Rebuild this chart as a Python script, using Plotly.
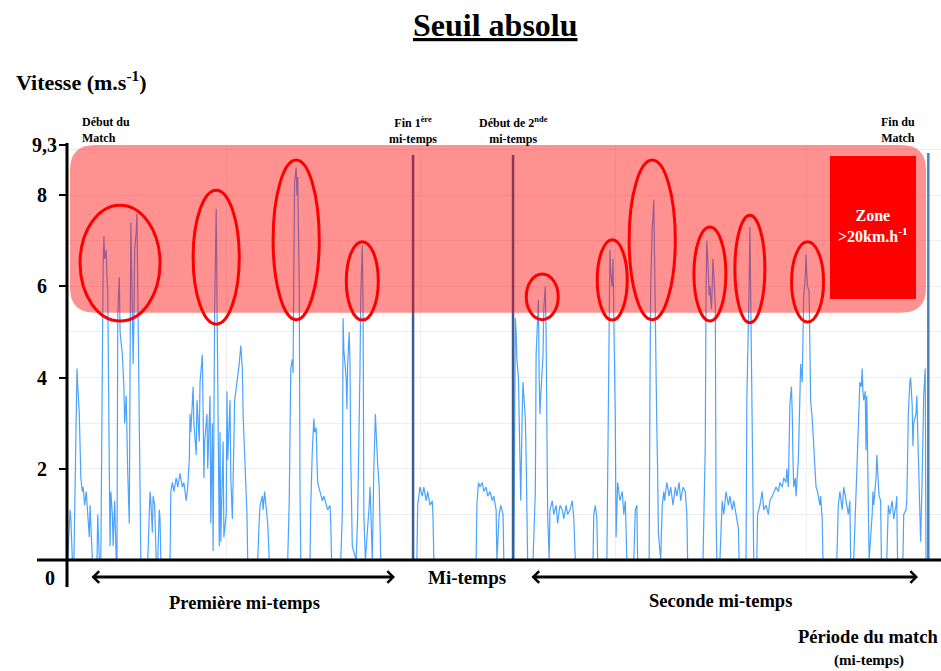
import plotly.graph_objects as go

# ---------------- data (time in minutes, speed in m/s) ----------------
T_H1 = [
    0.1, 0.3, 0.4, 0.5, 0.7, 0.9, 1.2, 1.3, 1.4, 1.6,
    1.7, 1.8, 2.0, 2.1, 2.2, 2.3, 2.5, 2.6, 2.7, 2.9,
    3.0, 3.1, 3.3, 3.9, 4.0, 4.2, 4.4, 4.7, 4.8, 4.9,
    5.1, 5.2, 5.3, 5.5, 5.6, 5.7, 5.9, 6.0, 6.2, 6.4,
    6.5, 6.6, 6.8, 6.9, 7.2, 7.4, 7.5, 7.7, 7.8, 7.9,
    8.1, 8.2, 8.3, 8.5, 8.6, 8.7, 8.8, 9.0, 9.1, 9.2,
    9.4, 9.5, 9.6, 10.5, 10.7, 10.8, 10.9, 11.1, 11.2, 11.4,
    11.6, 11.8, 12.0, 12.1, 12.2, 13.4, 13.5, 13.7, 13.9, 14.2,
    14.4, 14.7, 15.0, 15.2, 15.5, 15.7, 15.9, 16.0, 16.1, 16.4,
    16.5, 16.8, 16.9, 17.2, 17.3, 17.6, 17.7, 17.8, 17.9, 18.2,
    18.3, 18.6, 18.7, 18.9, 19.0, 19.1, 19.2, 19.4, 19.5, 19.6,
    19.8, 19.9, 20.0, 20.3, 20.4, 20.7, 20.8, 20.9, 21.2, 21.3,
    21.5, 21.7, 21.8, 22.1, 22.4, 22.6, 22.8, 22.9, 23.1, 23.4,
    23.5, 24.8, 25.0, 25.1, 25.4, 25.5, 25.7, 25.9, 26.1, 26.3,
    28.7, 28.9, 29.0, 29.1, 29.3, 29.4, 29.5, 29.6, 29.8, 29.9,
    30.0, 30.2, 30.3, 30.4, 31.6, 31.7, 31.9, 32.0, 32.1, 32.2,
    32.4, 32.5, 32.6, 32.9, 33.2, 33.4, 33.7, 33.9, 34.2, 34.3,
    34.4, 35.6, 35.8, 35.9, 36.0, 36.3, 36.4, 36.5, 36.7, 36.8,
    36.9, 37.1, 37.6, 37.8, 38.1, 38.2, 38.4, 38.5, 38.6, 38.8,
    39.3, 39.4, 39.5, 39.7, 39.9, 40.1, 40.2, 40.3, 40.4, 40.6,
    40.7, 40.8,
]
V_H1 = [
    0, 1.0, 1.1, 0.9, 0, 0, 3.5, 4.2, 3.8, 3.2,
    2.5, 1.8, 1.5, 1.6, 1.4, 1.2, 1.5, 1.3, 1.0, 0.5,
    1.2, 0.8, 0, 0, 1.0, 0, 0, 6.5, 7.1, 6.6,
    6.8, 6.2, 5.9, 2.0, 0.3, 1.5, 1.0, 0.3, 1.3, 0,
    0, 5.4, 6.2, 5.0, 4.5, 3.8, 3.0, 3.6, 2.5, 1.9,
    0.8, 6.5, 7.4, 5.5, 4.3, 5.2, 6.8, 7.2, 7.6, 6.0,
    3.0, 1.5, 0, 0, 1.2, 1.5, 1.3, 0.6, 1.4, 1.2,
    0, 0, 1.1, 0.9, 0, 0, 1.5, 1.7, 1.5, 1.8,
    1.6, 1.9, 1.6, 1.7, 1.3, 1.6, 2.2, 3.2, 2.8, 3.8,
    3.0, 2.3, 3.5, 2.6, 3.9, 4.5, 3.2, 1.8, 2.6, 3.2,
    2.0, 3.6, 0.8, 3.0, 0.2, 2.4, 5.5, 7.7, 5.8, 3.3,
    0.3, 2.8, 0.4, 2.6, 0.5, 1.0, 3.7, 2.2, 3.5, 1.8,
    0.9, 2.6, 3.5, 3.9, 4.3, 4.7, 4.2, 3.2, 2.3, 1.0,
    0, 0, 0.9, 1.2, 1.4, 1.1, 1.5, 1.2, 0.8, 0,
    0, 1.3, 3.0, 4.2, 4.4, 4.1, 6.5, 8.3, 8.6, 8.0,
    8.4, 6.0, 1.5, 0, 0, 1.2, 2.4, 2.7, 3.1, 2.8,
    2.9, 2.2, 1.7, 1.5, 1.3, 1.4, 1.2, 1.1, 1.2, 0.8,
    0, 0, 1.0, 5.3, 4.6, 4.0, 3.3, 4.3, 5.0, 4.3,
    2.2, 0.3, 0, 1.0, 4.2, 5.8, 6.9, 5.6, 1.0, 0,
    1.2, 1.6, 1.1, 0, 2.0, 3.2, 2.8, 2.4, 2.1, 1.6,
    1.0, 0,
]
T_HT = [
    45.5, 45.6, 45.9, 46.2, 46.4, 46.7, 46.9, 47.2, 47.5, 47.6,
    47.7, 53.2, 53.3, 53.5, 53.7, 54.0, 54.2, 54.5, 54.7, 55.0,
    55.3, 55.5, 55.8, 55.9, 56.2, 56.4, 56.7, 56.8,
]
V_HT = [
    0, 1.2, 1.6, 1.4, 1.6, 1.3, 1.5, 1.2, 1.3, 0.9,
    0, 0, 1.2, 1.7, 1.6, 1.7, 1.5, 1.6, 1.4, 1.5,
    1.3, 1.4, 1.1, 0, 1.0, 1.2, 1.0, 0,
]
T_H2 = [
    58.1, 58.3, 58.4, 58.5, 58.7, 58.8, 58.9, 59.0, 59.2, 59.3,
    59.4, 59.6, 59.7, 59.8, 59.9, 60.6, 60.9, 61.0, 61.2, 61.3,
    61.4, 61.5, 61.6, 61.9, 62.0, 62.2, 62.3, 62.4, 62.5, 62.7,
    62.8, 63.1, 63.3, 63.6, 63.8, 64.1, 64.4, 64.6, 64.9, 65.1,
    65.4, 65.7, 65.9, 66.1, 68.4, 68.5, 68.7, 68.9, 69.0, 70.2,
    70.5, 70.6, 70.7, 70.9, 71.0, 71.1, 71.3, 71.4, 71.5, 71.6,
    71.9, 72.2, 72.4, 72.6, 72.8, 73.7, 73.9, 74.1, 74.2, 75.7,
    75.8, 75.9, 76.1, 76.2, 76.3, 76.4, 76.6, 76.7, 76.8, 76.9,
    77.2, 77.4, 77.6, 77.7, 78.0, 78.3, 78.5, 78.8, 79.1, 79.3,
    79.6, 79.8, 80.1, 80.4, 80.6, 80.7, 82.7, 83.0, 83.1, 83.2,
    83.4, 83.5, 83.6, 83.8, 83.9, 84.0, 84.1, 84.3, 84.4, 84.5,
    84.9, 85.2, 85.4, 85.7, 86.0, 86.2, 86.5, 86.7, 87.0, 87.3,
    87.4, 88.3, 88.4, 88.5, 88.7, 88.8, 88.9, 89.0, 89.2, 89.3,
    89.7, 89.8, 90.1, 90.4, 90.6, 90.9, 91.2, 91.4, 91.7, 91.9,
    92.2, 92.5, 92.7, 93.0, 93.2, 93.5, 93.6, 93.8, 93.9, 94.0,
    94.2, 94.3, 94.4, 94.5, 94.7, 94.8, 95.1, 95.2, 95.3, 95.4,
    95.6, 95.7, 95.8, 96.0, 96.1, 96.2, 96.3, 96.5, 96.6, 96.7,
    96.9, 97.0, 97.1, 97.2, 97.4, 97.6, 97.9, 98.0, 98.2, 98.3,
    100.1, 100.3, 100.5, 100.8, 101.0, 101.3, 101.6, 101.8, 101.9, 102.3,
    102.6, 102.7, 102.9, 103.0, 103.1, 103.3, 103.4, 103.5, 103.6, 103.8,
    103.9, 104.0, 104.2, 104.3, 104.7, 104.8, 104.9, 105.2, 105.3, 105.4,
    105.6, 105.8, 105.9, 106.6, 106.8, 107.0, 107.3, 107.5, 107.8, 107.9,
    108.0, 108.7, 108.8, 109.1, 109.2, 109.3, 109.4, 109.6, 109.7, 109.9,
    110.0, 110.1, 110.4, 110.5, 110.7, 110.8, 110.9, 111.0, 111.2, 111.3,
    111.4, 111.6, 111.7,
]
V_H2 = [
    0, 5.3, 5.0, 4.4, 4.0, 3.2, 2.4, 1.3, 3.3, 3.9,
    3.6, 3.1, 2.3, 1.0, 0, 0, 1.5, 4.5, 5.5, 5.7,
    4.0, 3.2, 3.6, 4.5, 5.5, 6.0, 5.0, 2.5, 1.0, 0,
    1.1, 1.3, 1.0, 1.2, 0.8, 1.2, 1.1, 0.9, 1.2, 1.0,
    1.1, 1.3, 0.9, 0, 0, 1.0, 1.2, 0.9, 0, 0,
    5.0, 6.8, 6.3, 6.0, 6.6, 5.5, 3.0, 0.5, 1.2, 1.7,
    1.3, 1.5, 1.0, 1.3, 0, 0, 1.1, 1.2, 0, 0,
    3.5, 6.0, 7.3, 7.5, 7.9, 6.4, 4.0, 2.9, 2.0, 0.6,
    0, 1.2, 1.5, 1.3, 1.7, 1.4, 1.6, 1.2, 1.6, 1.4,
    1.7, 1.3, 1.6, 1.5, 1.0, 0, 0, 2.5, 6.0, 7.0,
    6.3, 5.8, 6.0, 5.5, 6.0, 6.6, 6.3, 5.6, 1.0, 0,
    0, 1.3, 1.0, 1.5, 1.2, 1.4, 1.1, 1.3, 1.0, 0.7,
    0, 0, 3.5, 4.2, 6.0, 7.3, 6.0, 4.5, 1.0, 0,
    0, 1.0, 1.2, 1.5, 1.1, 1.2, 1.0, 1.3, 1.4, 1.5,
    1.6, 1.5, 1.7, 1.6, 1.8, 1.7, 2.0, 1.6, 2.5, 3.4,
    3.8, 3.3, 2.2, 1.6, 1.8, 1.4, 2.2, 3.0, 3.8, 4.3,
    3.9, 5.0, 5.8, 6.2, 6.7, 6.3, 6.0, 5.9, 4.6, 3.5,
    3.1, 2.8, 2.4, 2.0, 1.6, 1.5, 1.2, 1.4, 0.9, 0,
    0, 1.2, 1.5, 1.1, 1.6, 1.3, 1.0, 1.3, 0, 0,
    1.4, 1.7, 2.6, 3.4, 3.9, 3.8, 4.2, 3.7, 3.5, 3.7,
    2.4, 3.6, 1.2, 0, 1.0, 1.5, 1.2, 1.8, 2.3, 1.9,
    1.4, 1.3, 0, 0, 1.2, 1.0, 1.3, 0.9, 1.2, 1.4,
    0, 0, 1.0, 1.1, 1.3, 2.2, 3.2, 3.9, 4.0, 3.4,
    2.5, 3.0, 3.2, 3.6, 2.4, 1.5, 1.0, 0.4, 1.8, 2.6,
    3.6, 4.2, 0,
]
assert len(T_H1) == len(V_H1) and len(T_HT) == len(V_HT) and len(T_H2) == len(V_H2)

# match events (minutes): end of 1st half, start of 2nd half, end of match
EVENT_T = [45.0, 58.0, 112.0]
# highlighted sprints (ellipses): centre time, centre speed, half-widths
ELL_T = [6.9, 19.4, 29.8, 38.4, 61.8, 70.9, 76.1, 83.6, 88.8, 96.3]
ELL_V = [6.51, 6.64, 7.02, 6.12, 5.77, 6.14, 7.02, 6.27, 6.38, 6.10]
ELL_RT = [5.2, 3.0, 3.0, 2.08, 2.08, 1.95, 3.0, 2.08, 1.95, 2.08]
ELL_RV = [1.27, 1.47, 1.75, 0.86, 0.50, 0.88, 1.75, 1.03, 1.18, 0.88]
ZONE_V = 5.42          # lower bound of the >20 km/h band as drawn
Y_TOP = 9.1            # top of axis (labelled "9,3")
X_MAX = 113.65
Y_TICKS = [2, 4, 6, 8]
GRID_X = [20.8, 46.0, 71.3, 96.2]

FONT = "Liberation Serif"

# ---------------- layout helpers (pixel -> paper) ----------------
L, R, TOP, BOT = 67, 941, 145, 560
def pxx(p):
    return (p - L) / (R - L)
def pxy(p):
    return (BOT - p) / (BOT - TOP)
SX = (R - L) / X_MAX      # px per minute
SY = (BOT - TOP) / Y_TOP  # px per m/s

T_ALL = T_H1 + T_HT + T_H2
V_ALL = V_H1 + V_HT + V_H2

fig = go.Figure()
fig.add_trace(go.Scatter(
    x=T_ALL, y=V_ALL, mode="lines",
    line=dict(color="rgba(30,140,255,0.8)", width=1.2),
    hoverinfo="skip", showlegend=False,
))

shapes = []
# event lines
for i, t in enumerate(EVENT_T):
    last = i == len(EVENT_T) - 1
    shapes.append(dict(type="line", xref="x", yref="y", x0=t, x1=t, y0=0,
                       y1=(BOT - (153 if last else 155)) / SY,
                       line=dict(color="#4f81bd" if last else "#3d5d8e", width=2.5),
                       layer="above"))
# pink band with rounded corners
x0, x1 = (70 - L) / SX, (926 - L) / SX
y0, y1 = ZONE_V, Y_TOP
rx, ry = 25 / SX, 25 / SY
path = (f"M{x0+rx},{y1} L{x1-rx},{y1} Q{x1},{y1} {x1},{y1-ry} "
        f"L{x1},{y0+ry} Q{x1},{y0} {x1-rx},{y0} L{x0+rx},{y0} "
        f"Q{x0},{y0} {x0},{y0+ry} L{x0},{y1-ry} Q{x0},{y1} {x0+rx},{y1} Z")
shapes.append(dict(type="path", xref="x", yref="y", path=path,
                   fillcolor="rgba(255,0,0,0.43)", line=dict(width=0), layer="above"))
# ellipses
for ct, cv, rt, rv in zip(ELL_T, ELL_V, ELL_RT, ELL_RV):
    shapes.append(dict(type="circle", xref="x", yref="y",
                       x0=ct - rt, x1=ct + rt, y0=cv - rv, y1=cv + rv,
                       line=dict(color="#ff0000", width=3), layer="above"))
# red legend box
shapes.append(dict(type="rect", xref="x", yref="y",
                   x0=(830 - L) / SX, x1=(916 - L) / SX,
                   y0=(BOT - 299) / SY, y1=(BOT - 156) / SY,
                   fillcolor="#ff0000", line=dict(width=0), layer="above"))
# axis lines
shapes.append(dict(type="line", xref="paper", yref="paper",
                   x0=pxx(37), x1=1, y0=0, y1=0,
                   line=dict(color="black", width=3), layer="above"))
shapes.append(dict(type="line", xref="paper", yref="paper",
                   x0=0, x1=0, y0=pxy(587), y1=pxy(143),
                   line=dict(color="black", width=3), layer="above"))

ann = []
def txt(s, x, y, size=16, xanchor="center", align="center", color="black"):
    ann.append(dict(text=s, xref="paper", yref="paper", x=x, y=y,
                    xanchor=xanchor, yanchor="middle", align=align,
                    showarrow=False, font=dict(family=FONT, size=size, color=color)))

txt("<b><u>Seuil absolu</u></b>", pxx(495), pxy(25), size=32)
txt("<b>Vitesse (m.s<sup>-1</sup>)</b>", pxx(14), pxy(81), size=22, xanchor="left", align="left")
for v in Y_TICKS:
    ann.append(dict(text=f"<b>{v}</b>", xref="paper", yref="y", x=pxx(42), y=v,
                    xanchor="center", yanchor="middle", showarrow=False,
                    font=dict(family=FONT, size=20, color="black")))
txt("<b>9,3</b>", pxx(44), pxy(145), size=20)
txt("<b>0</b>", pxx(50), pxy(578), size=20)
txt("<b>Début du<br>Match</b>", pxx(80), pxy(130), size=12, xanchor="left", align="left")
txt("<b>Fin 1<sup>ère</sup><br>mi-temps</b>", pxx(413), pxy(130), size=12)
txt("<b>Début de 2<sup>nde</sup><br>mi-temps</b>", pxx(513), pxy(130), size=12)
txt("<b>Fin du<br>Match</b>", pxx(898), pxy(130), size=12)
txt("<b>Zone<br>&gt;20km.h<sup>-1</sup></b>", pxx(873), pxy(226), size=16, color="white")
txt("<b>Mi-temps</b>", pxx(467), pxy(577), size=19)
txt("<b>Première mi-temps</b>", pxx(244), pxy(603), size=18.5)
txt("<b>Seconde mi-temps</b>", pxx(720), pxy(601), size=18.5)
txt("<b>Période du match</b>", pxx(868), pxy(637), size=18.5)
txt("<b>(mi-temps)</b>", pxx(869), pxy(660), size=15)

# double-headed arrows
for a, b in [(90, 395), (530, 918)]:
    ann.append(dict(text="", xref="paper", yref="paper", x=pxx(b), y=pxy(577),
                    axref="pixel", ayref="pixel", ax=-(b - a), ay=0,
                    showarrow=True, arrowhead=4, startarrowhead=4, arrowside="end+start",
                    arrowwidth=3, arrowsize=0.75, startarrowsize=0.75,
                    arrowcolor="black", standoff=0, startstandoff=0))

fig.update_layout(
    width=941, height=671, autosize=False,
    margin=dict(l=L, r=941 - R, t=TOP, b=671 - BOT, pad=0),
    paper_bgcolor="white", plot_bgcolor="white",
    font=dict(family=FONT),
    shapes=shapes, annotations=ann, showlegend=False,
    xaxis=dict(range=[0, X_MAX], tickvals=GRID_X, showticklabels=False, ticks="",
               showgrid=True, gridcolor="#efefef", gridwidth=1,
               zeroline=False, showline=False, fixedrange=True),
    yaxis=dict(range=[0, Y_TOP], tickvals=Y_TICKS + [Y_TOP], showticklabels=False,
               ticks="outside", ticklen=7, tickwidth=2, tickcolor="black",
               showgrid=True, gridcolor="#eeeeee", gridwidth=1,
               minor=dict(dtick=1, tick0=0, showgrid=True, gridcolor="#eeeeee", ticks=""),
               zeroline=False, showline=False, fixedrange=True),
)

fig.write_html("out.html")
